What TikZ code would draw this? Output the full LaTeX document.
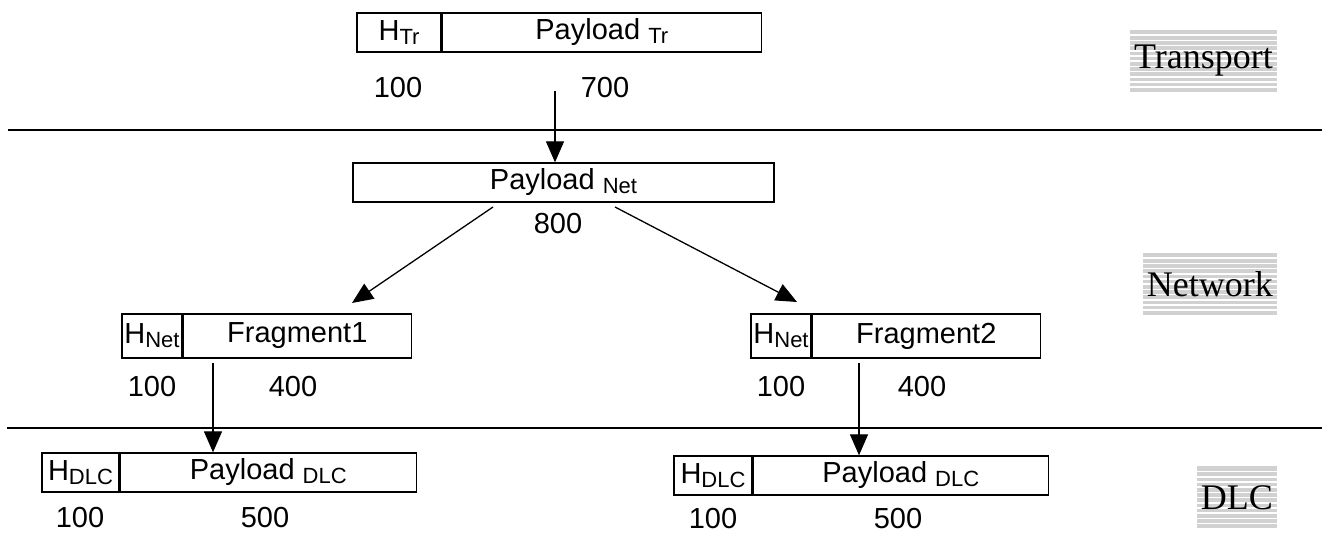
\documentclass[tikz,border=0pt]{standalone}
\usepackage{fontspec}
\setmainfont{Liberation Serif}
\setsansfont{Liberation Sans}
\usepackage{tikz}
\usetikzlibrary{positioning,arrows.meta}

\newcommand\sublbl[1]{\raisebox{-4pt}{\fontsize{22}{24}\selectfont #1}}

\begin{document}
\begin{tikzpicture}[x=1pt,y=1pt,
  cell/.style={draw,line width=1.3,minimum height=39,inner sep=0,
    font=\sffamily\fontsize{29}{31}\selectfont},
  num/.style={inner sep=0,font=\sffamily\fontsize{29}{31}\selectfont},
  arr/.style={line width=1.3,-{Triangle[length=21pt,width=18pt]}},
  sep/.style={line width=2},
  layer/.style={fill=black!18,minimum height=62,inner xsep=4,anchor=east,
    font=\rmfamily\fontsize{36}{40}\selectfont,
    path picture={\foreach \k in {1,...,12}
      \draw[white,line width=1.6]
        ([yshift=-\k*5.2pt]path picture bounding box.north west) --
        ([yshift=-\k*5.2pt]path picture bounding box.north east);}}]
\useasboundingbox (0,0) rectangle (1324,534);

% transport
\node[cell,minimum width=84] (htr) at (399,501.5) {H\sublbl{Tr}};
\node[cell,minimum width=319,right=0pt of htr] (ptr) {Payload \sublbl{Tr}};
\node[num] (ntr1) at (398,446) {100};
\node[num] (ntr2) at (605,446) {700};
\node[layer] (ltr) at (1277,473) {Transport\hspace{16pt}};

\draw[sep] (8,404) -- (1322,404);

% network
\node[cell,minimum width=421] (pnet) at (563.5,351.5) {Payload \sublbl{Net}};
\node[num] (nnet) at (558,310) {800};
\coordinate (trsrc) at (555,443);
\draw[arr] (trsrc) -- (trsrc |- pnet.north);

\node[cell,minimum width=60,minimum height=44] (hfa) at (152,198) {H\sublbl{Net}};
\node[cell,minimum width=228,minimum height=44,right=0pt of hfa] (fa) {Fragment1};
\node[num] (nfa1) at (152,147) {100};
\node[num] (nfa2) at (293,147) {400};

\node[cell,minimum width=60,minimum height=44] (hfb) at (781,198) {H\sublbl{Net}};
\node[cell,minimum width=228,minimum height=44,right=0pt of hfb] (fb) {Fragment2};
\node[num] (nfb1) at (781,147) {100};
\node[num] (nfb2) at (922,147) {400};

\coordinate (netl) at (493,327);
\coordinate (netr) at (615,327);
\coordinate (tipl) at (352,231);
\coordinate (tipr) at (797,232);
\draw[arr] (netl) -- (tipl);
\draw[arr] (netr) -- (tipr);
\node[layer] (lnet) at (1277,250) {Network\hspace{16pt}};

\draw[sep] (7,106) -- (1322,106);

% dlc
\node[cell,minimum width=77] (hda) at (80.5,61.5) {H\sublbl{DLC}};
\node[cell,minimum width=296,right=0pt of hda] (pda) {Payload \sublbl{DLC}};
\node[num] (nda1) at (80,16) {100};
\node[num] (nda2) at (265,16) {500};

\node[cell,minimum width=78] (hdb) at (713,58.5) {H\sublbl{DLC}};
\node[cell,minimum width=295,right=0pt of hdb] (pdb) {Payload \sublbl{DLC}};
\node[num] (ndb1) at (713,15) {100};
\node[num] (ndb2) at (898,15) {500};

\coordinate (fasrc) at (213,171);
\coordinate (fbsrc) at (859,171);
\draw[arr] (fasrc) -- (fasrc |- pda.north);
\draw[arr] (fbsrc) -- (fbsrc |- pdb.north);
\node[layer] (ldlc) at (1277,36.5) {DLC\hspace{16pt}};

\end{tikzpicture}
\end{document}
